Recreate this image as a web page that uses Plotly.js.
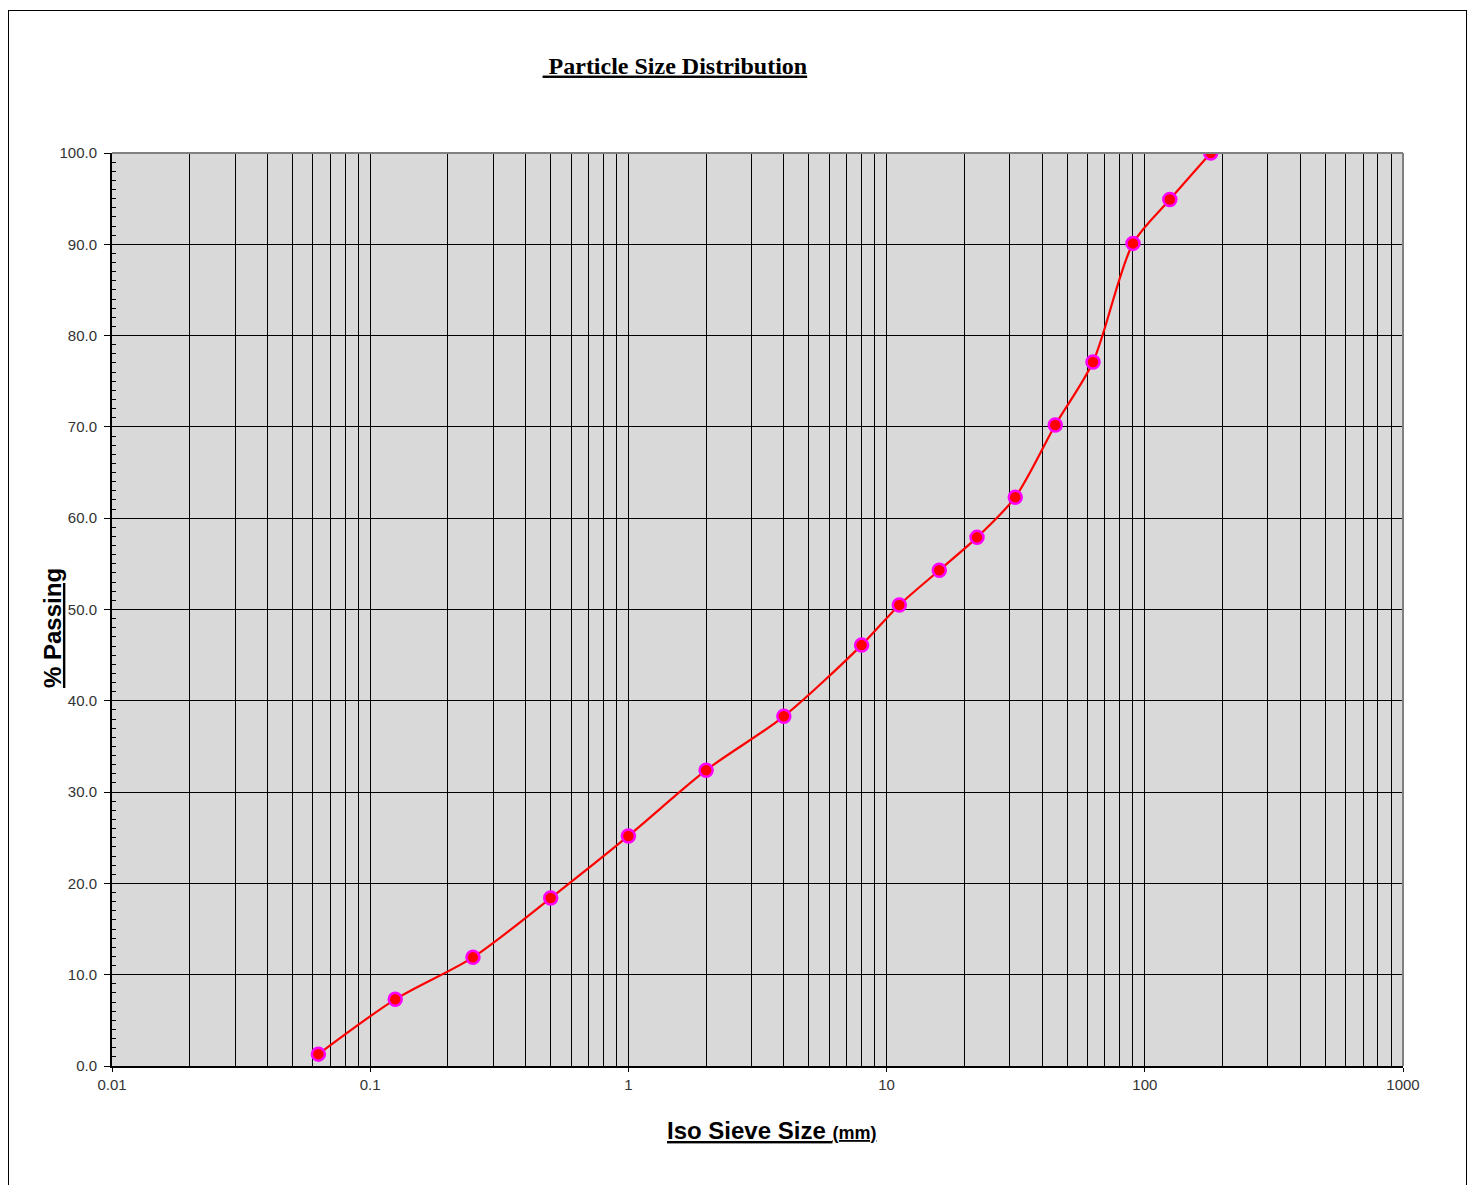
<!DOCTYPE html>
<html>
<head>
<meta charset="utf-8">
<script src="https://cdn.plot.ly/plotly-3.0.1.min.js"></script>
<style>
html,body{margin:0;padding:0;background:#fff;}
#wrap{position:relative;width:1474px;height:1185px;}
#chart{position:absolute;left:0;top:0;width:1474px;height:1185px;}
#frame{position:absolute;left:8px;top:10px;width:1459px;height:1185px;border:1.5px solid #000;box-sizing:border-box;pointer-events:none;}
</style>
</head>
<body>
<div id="wrap"><div id="chart"></div><div id="frame"></div></div>
<script>
// Sieve sizes (mm) and % passing
const sieveSizes = [0.063, 0.125, 0.25, 0.5, 1, 2, 4, 8, 11.2, 16, 22.4, 31.5, 45, 63, 90, 125, 180];
const percentPassing = [1.3, 7.3, 11.9, 18.4, 25.2, 32.4, 38.3, 46.1, 50.5, 54.3, 57.9, 62.3, 70.2, 77.1, 90.1, 94.9, 100.0];
const xTickVals = [0.01, 0.1, 1, 10, 100, 1000];
const xTickText = ['0.01', '0.1', '1', '10', '100', '1000'];

const tickFont = {family: 'Liberation Sans, Arial, sans-serif', size: 15, color: '#333'};

const trace = {
  x: sieveSizes,
  y: percentPassing,
  type: 'scatter',
  mode: 'lines+markers',
  line: {color: '#ff0000', width: 2.2, shape: 'spline', smoothing: 0.8},
  marker: {size: 13, color: '#ff0000', line: {color: '#ff00ff', width: 2.5}},
  hoverinfo: 'x+y'
};

const layout = {
  width: 1474, height: 1185,
  margin: {l: 112, r: 71, t: 153, b: 119},
  paper_bgcolor: 'rgba(0,0,0,0)',
  plot_bgcolor: '#d9d9d9',
  showlegend: false,
  title: {
    text: '<u><b>&nbsp;Particle Size Distribution</b></u>',
    font: {family: 'Liberation Serif, Times New Roman, serif', size: 24, color: '#000'},
    x: 0.436, xanchor: 'center', xref: 'paper',
    y: 0.945, yanchor: 'middle', yref: 'container'
  },
  xaxis: {
    type: 'log',
    range: [-2, 3],
    tickmode: 'array',
    tickvals: xTickVals,
    ticktext: xTickText,
    ticks: 'outside', ticklen: 4, tickcolor: '#000', tickwidth: 1,
    tickfont: tickFont,
    showgrid: true, gridcolor: '#000', gridwidth: 1,
    minor: {dtick: 'D1', showgrid: true, gridcolor: '#000', gridwidth: 1, ticks: ''},
    showline: true, linecolor: '#000', linewidth: 2,
    zeroline: false,
    fixedrange: true
  },
  yaxis: {
    range: [0, 100],
    dtick: 10,
    tickformat: '.1f',
    ticks: 'outside', ticklen: 6, tickcolor: '#000', tickwidth: 1,
    ticklabelstandoff: 4,
    tickfont: tickFont,
    showgrid: true, gridcolor: '#000', gridwidth: 1,
    minor: {dtick: 1, ticks: 'inside', ticklen: 4, tickcolor: '#000', showgrid: false},
    showline: true, linecolor: '#000', linewidth: 2,
    zeroline: false,
    fixedrange: true
  },
  shapes: [
    {type: 'line', xref: 'paper', yref: 'paper', x0: 0, x1: 1, y0: 1, y1: 1, line: {color: '#808080', width: 2}},
    {type: 'line', xref: 'paper', yref: 'paper', x0: 1, x1: 1, y0: 0, y1: 1, line: {color: '#808080', width: 2}}
  ],
  annotations: [
    {
      text: '<u><b>% Passing</b></u>',
      xref: 'paper', yref: 'paper',
      x: -0.0465, y: 0.4797, xanchor: 'center', yanchor: 'middle',
      textangle: -90, showarrow: false,
      font: {family: 'Liberation Sans, Arial, sans-serif', size: 24, color: '#000'}
    },
    {
      text: '<u><b>Iso Sieve Size <span style="font-size:18px">(mm)</span></b></u>',
      xref: 'paper', yref: 'paper',
      x: 0.5105, y: -0.0705, xanchor: 'center', yanchor: 'middle',
      showarrow: false,
      font: {family: 'Liberation Sans, Arial, sans-serif', size: 24, color: '#000'}
    }
  ]
};

Plotly.newPlot('chart', [trace], layout, {displayModeBar: false, staticPlot: true});
</script>
</body>
</html>
